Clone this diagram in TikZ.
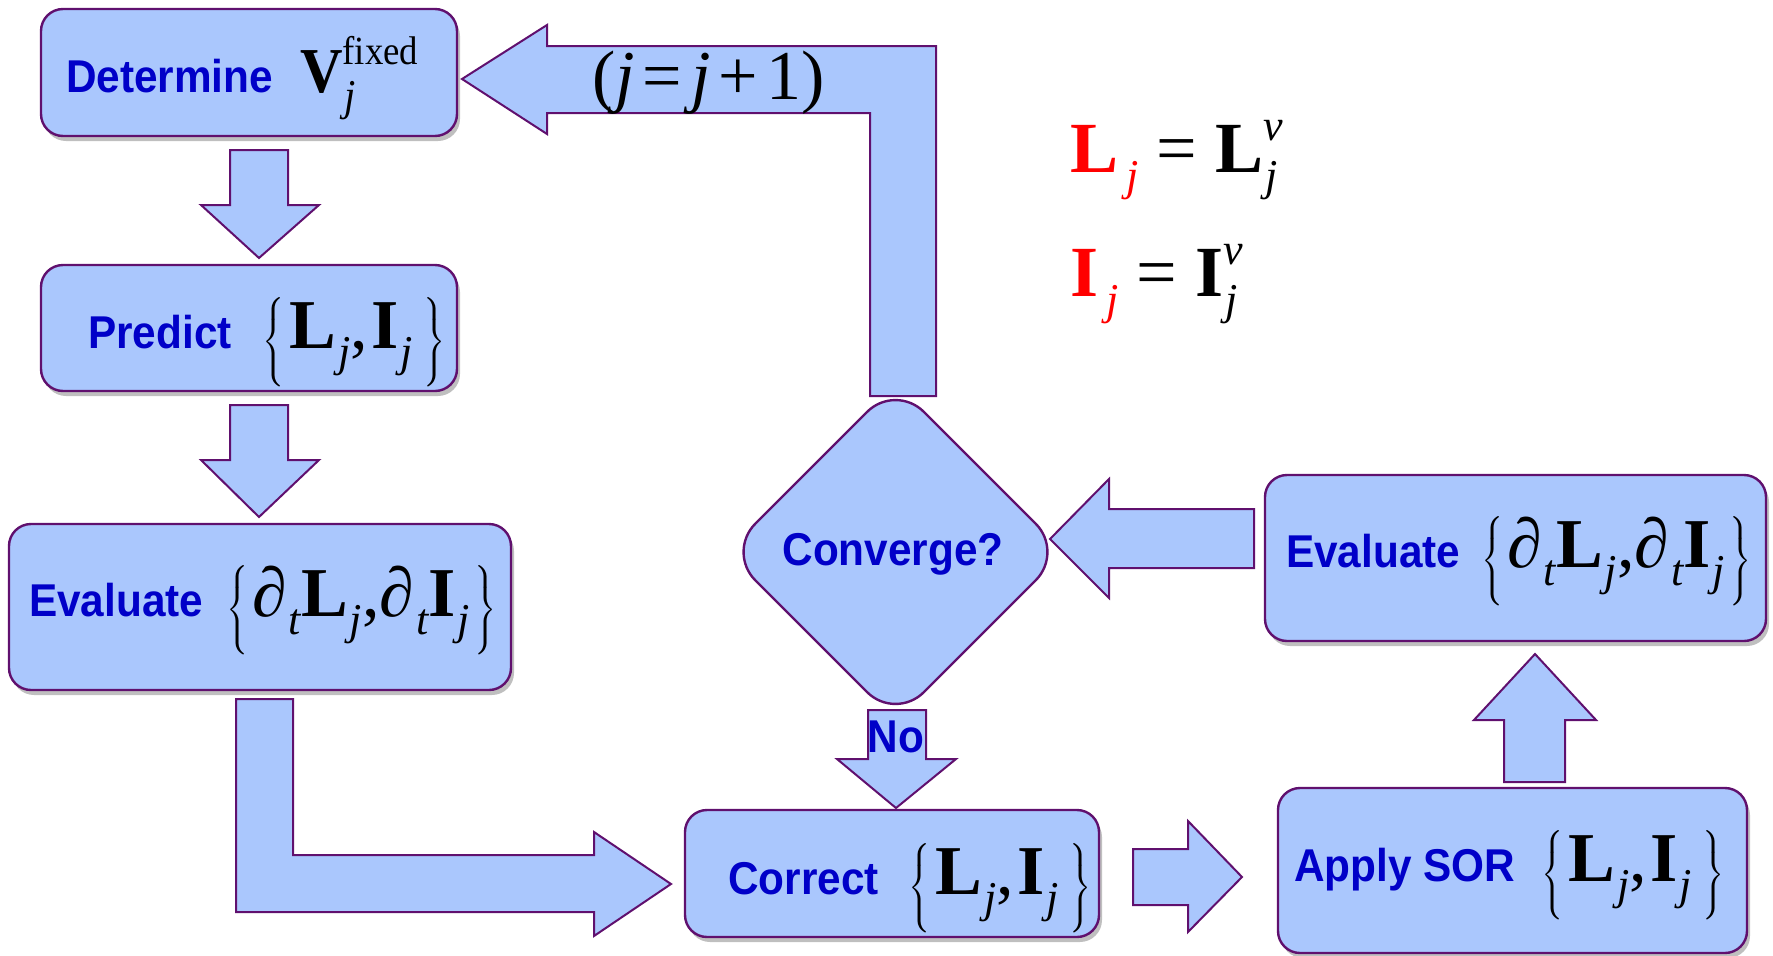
\documentclass[tikz,border=0pt]{standalone}
\usepackage{amsmath}
\usepackage{fontspec}
\setmainfont{Liberation Serif}
\newfontfamily\sansb{Liberation Sans}
\usepackage{graphicx}
\usetikzlibrary{shapes.geometric,shadows}
\definecolor{boxfill}{HTML}{AAC7FD}
\definecolor{boxline}{HTML}{60106E}
\definecolor{txtblue}{HTML}{0000C8}
\newcommand\sq[1]{\scalebox{0.92}[1]{#1}}
\newcommand\bset[1]{$\left\{\rule[-22pt]{0pt}{72pt}\mbox{\hspace{5pt}#1\hspace{10pt}}\right\}$}
\newcommand\bsetE[1]{$\left\{\rule[-22pt]{0pt}{72pt}\mbox{\hspace{4pt}#1\hspace{5pt}}\right\}$}
\newcommand\SB[1]{\hspace{2pt}\raisebox{-18pt}{\fontsize{44}{46}\selectfont\itshape #1}}
\newcommand\SP[1]{\raisebox{28pt}{\fontsize{40}{44}\selectfont #1}}
\newcommand\SPi[1]{\raisebox{32pt}{\fontsize{44}{46}\selectfont\itshape #1}}
\newcommand\B[1]{\textbf{#1}}
\newcommand\cm{,\hspace{4pt}}
\tikzset{
  box/.style={draw=boxline, fill=boxfill, line width=2.4pt, rounded corners=22pt, inner sep=0pt,
    drop shadow={shadow xshift=3pt, shadow yshift=-5pt, opacity=0.25, fill=black}},
  blockarrow/.style={draw=boxline, fill=boxfill, line width=2pt, line join=miter},
  lbl/.style={text=txtblue, font=\sansb\bfseries\fontsize{46}{50}\selectfont, inner sep=0pt, anchor=base west},
  mth/.style={text=black, font=\fontsize{70}{76}\selectfont, inner sep=0pt, anchor=base west},
}
\begin{document}
\begin{tikzpicture}[x=1pt,y=-1pt]
\useasboundingbox (0,0) rectangle (1773,956);

% boxes
\node[box, minimum width=416pt, minimum height=127pt] (det) at (249,72.5) {};
\node[box, minimum width=416pt, minimum height=126pt] (pred) at (249,328) {};
\node[box, minimum width=502pt, minimum height=166pt] (evalL) at (260,607) {};
\node[box, minimum width=414pt, minimum height=127pt] (corr) at (892,873.5) {};
\node[box, minimum width=469pt, minimum height=165pt] (sor) at (1512.5,870.5) {};
\node[box, minimum width=501pt, minimum height=166pt] (evalR) at (1515.5,558) {};

% block arrows
\draw[blockarrow] (230,150) -- (288,150) -- (288,205) -- (319,205) -- (259,258) -- (201,205) -- (230,205) -- cycle;
\draw[blockarrow] (230,405) -- (288,405) -- (288,460) -- (319,460) -- (259,517) -- (201,460) -- (230,460) -- cycle;
\draw[blockarrow] (236,699) -- (293,699) -- (293,855) -- (594,855) -- (594,832) -- (671,884) -- (594,936) -- (594,912) -- (236,912) -- cycle;
\draw[blockarrow] (1133,849) -- (1188,849) -- (1188,821) -- (1242,877) -- (1188,932) -- (1188,905) -- (1133,905) -- cycle;
\draw[blockarrow] (1504,782) -- (1504,720) -- (1474,720) -- (1535,654) -- (1596,720) -- (1565,720) -- (1565,782) -- cycle;
\draw[blockarrow] (1254,509) -- (1109,509) -- (1109,479) -- (1050,539) -- (1109,598) -- (1109,568) -- (1254,568) -- cycle;
\draw[blockarrow] (936,396) -- (936,46) -- (547,46) -- (547,25) -- (462,79) -- (547,134) -- (547,113) -- (870,113) -- (870,396) -- cycle;
\draw[blockarrow] (868,710) -- (926,710) -- (926,759) -- (956,759) -- (896,808) -- (837,759) -- (868,759) -- cycle;

% diamond
\node[diamond, aspect=1, draw=boxline, fill=boxfill, line width=2.4pt, rounded corners=40pt,
  minimum width=338pt, minimum height=338pt, inner sep=0pt] (conv) at (895.5,552) {};

% labels
\node[lbl] (tdet) at (66,92) {\sq{Determine}};
\node[mth, font=\fontsize{64}{70}\selectfont] (mdet) at (300,92) {\sq{\B{V}\rlap{\SB{j}}\SP{fixed}}};
\node[lbl] (tpred) at (88,348) {\sq{Predict}};
\node[mth] (mpred) at (262,348) {\bset{\B{L}\SB{j}\cm\B{I}\SB{j}}};
\node[lbl] (tevL) at (29,616) {\sq{Evaluate}};
\node[mth] (mevL) at (226,616) {\bsetE{∂\SB{t}\B{L}\SB{j},∂\SB{t}\B{I}\SB{j}}};
\node[lbl, anchor=base] (tconv) at (893,565) {\sq{Converge?}};
\node[lbl, anchor=base] (tno) at (896,752) {\sq{No}};
\node[lbl] (tcorr) at (728,894) {\sq{Correct}};
\node[mth] (mcorr) at (908,894) {\bset{\B{L}\SB{j}\cm\B{I}\SB{j}}};
\node[lbl] (tsor) at (1294,881) {\sq{Apply SOR}};
\node[mth] (msor) at (1541,881) {\bset{\B{L}\SB{j}\cm\B{I}\SB{j}}};
\node[lbl] (tevR) at (1286,567) {\sq{Evaluate}};
\node[mth] (mevR) at (1481,567) {\bsetE{∂\SB{t}\B{L}\SB{j},∂\SB{t}\B{I}\SB{j}}};
\node[mth] (minc) at (592,99) {(\textit{j}\hspace{8pt}=\hspace{9pt}\textit{j}\hspace{8pt}+\hspace{8pt}1)};
\node[mth, font=\fontsize{72}{78}\selectfont] (eqL) at (1070,172) {{\color{red}\B{L}\hspace{6pt}\SB{j}}\hspace{18pt}=\hspace{18pt}\B{L}\rlap{\SPi{ν}}\SB{j}};
\node[mth, font=\fontsize{72}{78}\selectfont] (eqI) at (1070,296) {{\color{red}\B{I}\hspace{6pt}\SB{j}}\hspace{18pt}=\hspace{18pt}\B{I}\rlap{\SPi{ν}}\SB{j}};
\end{tikzpicture}
\end{document}
